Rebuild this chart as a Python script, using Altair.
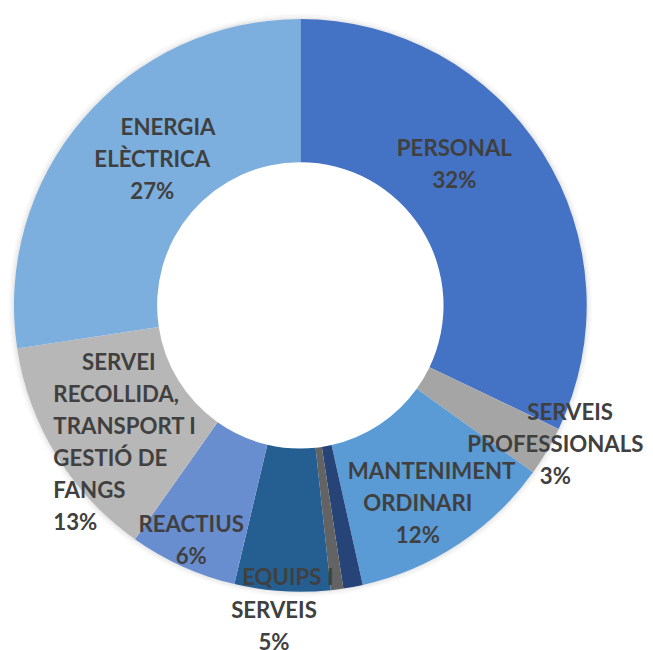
import altair as alt

# ---- data ----
categories = [
    "PERSONAL",
    "SERVEIS PROFESSIONALS",
    "MANTENIMENT ORDINARI",
    "ALTRES 1",
    "ALTRES 2",
    "EQUIPS I SERVEIS",
    "REACTIUS",
    "SERVEI RECOLLIDA, TRANSPORT I GESTIÓ DE FANGS",
    "ENERGIA ELÈCTRICA",
]
values = [32.1, 2.8, 11.6, 1.1, 0.7, 5.4, 6.1, 12.8, 27.4]
colors = ["#4472C4", "#A5A5A5", "#5B9BD5", "#264478", "#636363",
          "#255E91", "#698ED0", "#B7B7B7", "#7CAFDD"]
label_lines = [
    ["PERSONAL"],
    ["SERVEIS", "PROFESSIONALS"],
    ["MANTENIMENT", "ORDINARI"],
    [],
    [],
    ["EQUIPS I", "SERVEIS"],
    ["REACTIUS"],
    ["SERVEI", "RECOLLIDA,", "TRANSPORT I", "GESTIÓ DE", "FANGS"],
    ["ENERGIA", "ELÈCTRICA"],
]

# ---- layout ----
W, H = 592, 594
CX, CY = W / 2, H / 2
R_OUT, R_IN = 290, 145
R_LAB = (R_OUT + R_IN) / 2
LINE_H = 32.5
# (dx, dy, first-line x shift, align) relative to the mid-ring position
nudge = {
    "PERSONAL": (-28, -26, 0, "center"),
    "SERVEIS PROFESSIONALS": (71, 31, 15, "center"),
    "MANTENIMENT ORDINARI": (-1, 20, 14, "center"),
    "EQUIPS I SERVEIS": (-13, 92, 14, "center"),
    "REACTIUS": (-21, 40, 0, "center"),
    "SERVEI RECOLLIDA, TRANSPORT I GESTIÓ DE FANGS": (-65, 25, 29, "left"),
    "ENERGIA ELÈCTRICA": (15, -5, 16, "center"),
}

records = []
for i, (c, v, lines) in enumerate(zip(categories, values, label_lines)):
    dx, dy, hx, al = nudge.get(c, (0, 0, 0, "none"))
    rec = {"idx": i, "cat": c, "value": v, "dx": dx, "dy": dy, "hx": hx, "al": al,
           "n": len(lines) + 1 if lines else 0,
           "head": lines[0] if lines else "",
           "rest": (lines[1:] + [f"{round(v)}%"]) if lines else []}
    records.append(rec)

data = alt.Data(values=records)
shadow_data = alt.Data(values=[{"v": 1}])

color_scale = alt.Scale(domain=categories, range=colors)

# soft glow / shadow around the ring (stroked circles, no seams)
shadow_layers = [
    alt.Chart(shadow_data).mark_point(
        shape="circle", filled=False, stroke="#000000", strokeWidth=1.6,
        strokeOpacity=op, size=4 * (R_OUT + k) ** 2,
    ).encode(x=alt.value(CX), y=alt.value(CY))
    for k, op in ((0.5, 0.10), (1.8, 0.07), (3.2, 0.045), (4.6, 0.025))
]

arcs = alt.Chart(data).mark_arc(innerRadius=R_IN, outerRadius=R_OUT).encode(
    theta=alt.Theta("value:Q", stack=True),
    order=alt.Order("idx:Q"),
    color=alt.Color("cat:N", scale=color_scale, legend=None),
)

base_text = alt.Chart(data).transform_joinaggregate(
    total="sum(value)"
).transform_window(
    cum="sum(value)", sort=[alt.SortField("idx")], frame=[None, 0]
).transform_calculate(
    mid="(datum.cum - datum.value/2) / datum.total * 2 * PI",
).transform_calculate(
    lx=f"{CX} + {R_LAB} * sin(datum.mid) + datum.dx",
    ly=f"{CY} - {R_LAB} * cos(datum.mid) + datum.dy - (datum.n - 1) * {LINE_H} / 2",
).transform_calculate(
    hx2="datum.lx + datum.hx",
    ry="datum.ly + " + str(LINE_H),
).transform_filter("datum.n > 0")

text_style = dict(font="Lato", fontWeight="bold", fontSize=22.5,
                  color="#404040", lineHeight=LINE_H, baseline="middle")

text_layers = []
for al in ("center", "left"):
    sub = base_text.transform_filter(f"datum.al == '{al}'")
    text_layers.append(
        sub.mark_text(align=al, **text_style).encode(
            x=alt.X("hx2:Q", scale=None),
            y=alt.Y("ly:Q", scale=None),
            text=alt.Text("head:N"),
        )
    )
    text_layers.append(
        sub.mark_text(align=al, **text_style).encode(
            x=alt.X("lx:Q", scale=None),
            y=alt.Y("ry:Q", scale=None),
            text=alt.Text("rest:N"),
        )
    )

chart = alt.layer(*shadow_layers, arcs, *text_layers).properties(
    width=W, height=H,
    autosize="none",
    padding={"left": 0, "top": 0, "right": 53, "bottom": 60},
).configure_view(stroke=None)

chart.save("out.html", embed_options={"renderer": "svg", "actions": False})
